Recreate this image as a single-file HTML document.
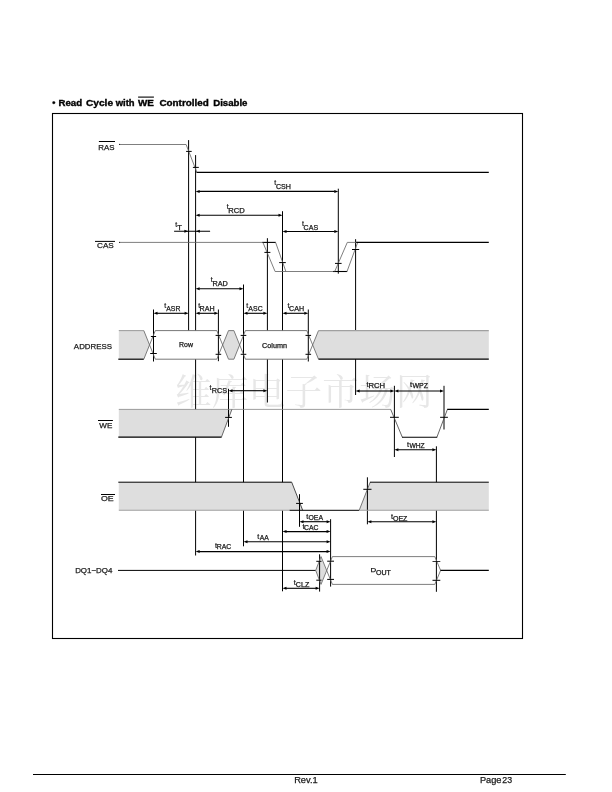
<!DOCTYPE html>
<html><head><meta charset="utf-8"><title>Read Cycle with WE Controlled Disable</title>
<style>
html,body{margin:0;padding:0;background:#fff;}
body{width:612px;height:792px;overflow:hidden;font-family:"Liberation Sans",sans-serif;}
svg{display:block;position:absolute;left:0;top:0;filter:grayscale(1);}
svg text{font-family:"Liberation Sans",sans-serif;fill:#1a1a1a;stroke:#1a1a1a;stroke-width:0.25px;}
svg text.tt{stroke-width:0.2px;}
svg text.ttl{stroke-width:0.35px;fill:#000;stroke:#000;}
</style></head>
<body>
<svg width="612" height="792" viewBox="0 0 612 792">
<rect x="0" y="0" width="612" height="792" fill="#fff"/>
<text x="175" y="404.5" font-size="36.5" text-anchor="start" textLength="257.5" lengthAdjust="spacing" style="font-family:'Liberation Serif','Noto Serif CJK SC',serif;fill:#e7e7e7;stroke:none;stroke-width:0;">维库电子市场网</text>
<rect x="52.5" y="113.5" width="470" height="525" fill="none" stroke="#000" stroke-width="1.1"/>
<line x1="33" y1="774.5" x2="565.8" y2="774.5" stroke="#000" stroke-width="1.1"/>
<text x="52.2" y="106.3" font-size="9.0" font-weight="bold" text-anchor="start" class="ttl">•</text>
<text x="58.5" y="106.3" font-size="9.0" font-weight="bold" text-anchor="start" textLength="23.6" lengthAdjust="spacingAndGlyphs" class="ttl">Read</text>
<text x="85.9" y="106.3" font-size="9.0" font-weight="bold" text-anchor="start" textLength="27.2" lengthAdjust="spacingAndGlyphs" class="ttl">Cycle</text>
<text x="115.7" y="106.3" font-size="9.0" font-weight="bold" text-anchor="start" textLength="18.9" lengthAdjust="spacingAndGlyphs" class="ttl">with</text>
<text x="138.0" y="106.3" font-size="9.0" font-weight="bold" text-anchor="start" textLength="15.9" lengthAdjust="spacingAndGlyphs" class="ttl">WE</text>
<text x="159.4" y="106.3" font-size="9.0" font-weight="bold" text-anchor="start" textLength="49.4" lengthAdjust="spacingAndGlyphs" class="ttl">Controlled</text>
<text x="213.2" y="106.3" font-size="9.0" font-weight="bold" text-anchor="start" textLength="34.3" lengthAdjust="spacingAndGlyphs" class="ttl">Disable</text>
<line x1="138.1" y1="97.1" x2="153.9" y2="97.1" stroke="#000" stroke-width="1.1"/>
<line x1="98.9" y1="141.5" x2="115" y2="141.5" stroke="#000" stroke-width="1.0"/>
<line x1="95" y1="241.4" x2="115" y2="241.4" stroke="#000" stroke-width="1.0"/>
<line x1="98" y1="420.5" x2="112.9" y2="420.5" stroke="#000" stroke-width="1.0"/>
<line x1="101" y1="494.5" x2="115" y2="494.5" stroke="#000" stroke-width="1.0"/>
<polygon points="118.8,330.6 143.8,330.6 149.6,345 143.8,359.2 118.8,359.2" fill="#dedede" stroke="none" stroke-width="0"/>
<polygon points="222.6,345 228.5,330.6 233.9,330.6 239.5,345 233.9,359.2 228.5,359.2" fill="#dedede" stroke="none" stroke-width="0"/>
<polygon points="318.5,330.6 488.8,330.6 488.8,359.2 318.5,359.2 312.8,345" fill="#dedede" stroke="none" stroke-width="0"/>
<polygon points="118.8,409.4 231.9,409.4 221.4,437.2 118.8,437.2" fill="#dedede" stroke="none" stroke-width="0"/>
<polygon points="118.8,482.2 291.7,482.2 302.7,510.3 118.8,510.3" fill="#dedede" stroke="none" stroke-width="0"/>
<polygon points="370.2,482.2 488.8,482.2 488.8,510.3 359.2,510.3" fill="#dedede" stroke="none" stroke-width="0"/>
<polygon points="315.7,570.4 321,556.5 326.5,570.4 321,584.3" fill="#dedede" stroke="none" stroke-width="0"/>
<line x1="188.6" y1="140.1" x2="188.6" y2="330.6" stroke="#000" stroke-width="1.0"/>
<line x1="195.6" y1="155.1" x2="195.6" y2="330.6" stroke="#000" stroke-width="1.0"/>
<line x1="195.6" y1="359.2" x2="195.6" y2="409.4" stroke="#000" stroke-width="1.0"/>
<line x1="195.6" y1="437.2" x2="195.6" y2="482.2" stroke="#000" stroke-width="1.0"/>
<line x1="195.6" y1="510.3" x2="195.6" y2="555.5" stroke="#000" stroke-width="1.0"/>
<line x1="243.5" y1="284.5" x2="243.5" y2="482.2" stroke="#000" stroke-width="1.0"/>
<line x1="243.5" y1="510.3" x2="243.5" y2="546.3" stroke="#000" stroke-width="1.0"/>
<line x1="267.4" y1="238.2" x2="267.4" y2="330.6" stroke="#000" stroke-width="1.0"/>
<line x1="267.4" y1="359.2" x2="267.4" y2="402.5" stroke="#000" stroke-width="1.0"/>
<line x1="282.5" y1="211.2" x2="282.5" y2="330.6" stroke="#000" stroke-width="1.0"/>
<line x1="282.5" y1="359.2" x2="282.5" y2="482.2" stroke="#000" stroke-width="1.0"/>
<line x1="282.5" y1="510.3" x2="282.5" y2="591.3" stroke="#000" stroke-width="1.0"/>
<line x1="338.3" y1="188.7" x2="338.3" y2="273.7" stroke="#000" stroke-width="1.0"/>
<line x1="355.6" y1="239.2" x2="355.6" y2="330.6" stroke="#000" stroke-width="1.0"/>
<line x1="355.6" y1="359.2" x2="355.6" y2="395" stroke="#000" stroke-width="1.0"/>
<line x1="153.5" y1="309.5" x2="153.5" y2="361.5" stroke="#000" stroke-width="1.0"/>
<line x1="218.4" y1="309.5" x2="218.4" y2="361.2" stroke="#000" stroke-width="1.0"/>
<line x1="308.3" y1="309.5" x2="308.3" y2="361.5" stroke="#000" stroke-width="1.0"/>
<line x1="228.5" y1="388.8" x2="228.5" y2="426.8" stroke="#000" stroke-width="1.0"/>
<line x1="394.4" y1="385.8" x2="394.4" y2="457" stroke="#000" stroke-width="1.0"/>
<line x1="444.0" y1="385.8" x2="444.0" y2="429.5" stroke="#000" stroke-width="1.0"/>
<line x1="436.4" y1="446.3" x2="436.4" y2="482.2" stroke="#000" stroke-width="1.0"/>
<line x1="436.4" y1="510.3" x2="436.4" y2="591.8" stroke="#000" stroke-width="1.0"/>
<line x1="299.5" y1="494.2" x2="299.5" y2="526.8" stroke="#000" stroke-width="1.0"/>
<line x1="367.4" y1="477.3" x2="367.4" y2="524.3" stroke="#000" stroke-width="1.0"/>
<line x1="330.6" y1="519.2" x2="330.6" y2="586.6" stroke="#000" stroke-width="1.0"/>
<line x1="319.6" y1="554.3" x2="319.6" y2="591.6" stroke="#000" stroke-width="1.0"/>
<rect x="119" y="143.9" width="1.1" height="1.1" fill="#000"/>
<rect x="119" y="241.9" width="1.1" height="1.1" fill="#000"/>
<polyline points="119.5,144.5 186.1,144.5 196.9,172.4" stroke="#686868" stroke-width="0.85" fill="none" stroke-linejoin="miter"/>
<line x1="196.5" y1="172.4" x2="488.8" y2="172.4" stroke="#000" stroke-width="1.1"/>
<line x1="186.1" y1="151.4" x2="191.70000000000002" y2="151.4" stroke="#000" stroke-width="1.0"/>
<line x1="192.9" y1="167.4" x2="198.79999999999998" y2="167.4" stroke="#000" stroke-width="1.0"/>
<line x1="119.5" y1="242.4" x2="263" y2="242.4" stroke="#686868" stroke-width="0.85"/>
<line x1="262.4" y1="242.4" x2="275.8" y2="242.4" stroke="#000" stroke-width="1.1"/>
<polyline points="262.9,242.4 275.1,271.5" stroke="#686868" stroke-width="0.85" fill="none" stroke-linejoin="miter"/>
<polyline points="275.6,242.4 285.9,271.5" stroke="#686868" stroke-width="0.85" fill="none" stroke-linejoin="miter"/>
<line x1="275.1" y1="271.5" x2="334" y2="271.5" stroke="#686868" stroke-width="0.85"/>
<line x1="333.2" y1="271.5" x2="347.2" y2="271.5" stroke="#000" stroke-width="1.1"/>
<polyline points="334.7,271.5 347.3,242.4 357.7,242.4" stroke="#686868" stroke-width="0.85" fill="none" stroke-linejoin="miter"/>
<polyline points="347,271.5 357.7,242.4" stroke="#686868" stroke-width="0.85" fill="none" stroke-linejoin="miter"/>
<line x1="356.2" y1="242.4" x2="488.8" y2="242.4" stroke="#000" stroke-width="1.1"/>
<line x1="264.4" y1="252.4" x2="270.4" y2="252.4" stroke="#000" stroke-width="1.0"/>
<line x1="279.2" y1="262.6" x2="285.8" y2="262.6" stroke="#000" stroke-width="1.0"/>
<line x1="335.0" y1="263.4" x2="341.6" y2="263.4" stroke="#000" stroke-width="1.0"/>
<line x1="352.0" y1="249.5" x2="359.20000000000005" y2="249.5" stroke="#000" stroke-width="1.0"/>
<line x1="118.8" y1="330.6" x2="143.8" y2="330.6" stroke="#a0a0a0" stroke-width="1.1"/>
<line x1="118.3" y1="359.2" x2="143.8" y2="359.2" stroke="#000" stroke-width="1.2"/>
<polyline points="143.8,330.6 155.3,359.2" stroke="#686868" stroke-width="0.85" fill="none" stroke-linejoin="miter"/>
<polyline points="143.8,359.2 155.3,330.6" stroke="#686868" stroke-width="0.85" fill="none" stroke-linejoin="miter"/>
<line x1="155.3" y1="330.6" x2="216.8" y2="330.6" stroke="#686868" stroke-width="0.9"/>
<line x1="155.3" y1="359.2" x2="216.8" y2="359.2" stroke="#686868" stroke-width="0.9"/>
<polyline points="216.8,330.6 228.5,359.2 233.9,359.2 245.4,330.6" stroke="#686868" stroke-width="0.85" fill="none" stroke-linejoin="miter"/>
<polyline points="216.8,359.2 228.5,330.6 233.9,330.6 245.4,359.2" stroke="#686868" stroke-width="0.85" fill="none" stroke-linejoin="miter"/>
<line x1="245.4" y1="330.6" x2="306.8" y2="330.6" stroke="#686868" stroke-width="0.9"/>
<line x1="245.4" y1="359.2" x2="306.8" y2="359.2" stroke="#686868" stroke-width="0.9"/>
<polyline points="306.8,330.6 318.5,359.2" stroke="#686868" stroke-width="0.85" fill="none" stroke-linejoin="miter"/>
<polyline points="306.8,359.2 318.5,330.6" stroke="#686868" stroke-width="0.85" fill="none" stroke-linejoin="miter"/>
<line x1="318.5" y1="330.6" x2="488.8" y2="330.6" stroke="#a0a0a0" stroke-width="1.1"/>
<line x1="318.5" y1="359.2" x2="488.8" y2="359.2" stroke="#000" stroke-width="1.2"/>
<line x1="150.9" y1="336.5" x2="156.1" y2="336.5" stroke="#000" stroke-width="1.0"/>
<line x1="150.2" y1="353.5" x2="156.8" y2="353.5" stroke="#000" stroke-width="1.0"/>
<line x1="215.6" y1="335.4" x2="221.20000000000002" y2="335.4" stroke="#000" stroke-width="1.0"/>
<line x1="215.6" y1="354.3" x2="221.20000000000002" y2="354.3" stroke="#000" stroke-width="1.0"/>
<line x1="240.7" y1="335.4" x2="246.3" y2="335.4" stroke="#000" stroke-width="1.0"/>
<line x1="240.7" y1="354.3" x2="246.3" y2="354.3" stroke="#000" stroke-width="1.0"/>
<line x1="305.5" y1="335.4" x2="311.1" y2="335.4" stroke="#000" stroke-width="1.0"/>
<line x1="305.5" y1="354.3" x2="311.1" y2="354.3" stroke="#000" stroke-width="1.0"/>
<line x1="118.8" y1="409.4" x2="390.8" y2="409.4" stroke="#858585" stroke-width="0.8"/>
<line x1="118.3" y1="437.2" x2="221.6" y2="437.2" stroke="#000" stroke-width="1.25"/>
<line x1="231.9" y1="409.4" x2="221.4" y2="437.2" stroke="#505050" stroke-width="0.85"/>
<line x1="390.7" y1="409.4" x2="402.3" y2="437.2" stroke="#4a4a4a" stroke-width="0.85"/>
<line x1="436.9" y1="437.2" x2="447.4" y2="409.4" stroke="#4a4a4a" stroke-width="0.85"/>
<line x1="402.0" y1="437.2" x2="437.2" y2="437.2" stroke="#000" stroke-width="1.1"/>
<line x1="447.2" y1="409.4" x2="488.8" y2="409.4" stroke="#000" stroke-width="1.1"/>
<line x1="225.1" y1="417.4" x2="231.9" y2="417.4" stroke="#000" stroke-width="1.0"/>
<line x1="390.0" y1="417.3" x2="398.79999999999995" y2="417.3" stroke="#000" stroke-width="1.0"/>
<line x1="440.1" y1="417.3" x2="447.9" y2="417.3" stroke="#000" stroke-width="1.0"/>
<line x1="118.3" y1="482.2" x2="291.7" y2="482.2" stroke="#000" stroke-width="1.0"/>
<line x1="291.7" y1="482.2" x2="302.7" y2="510.3" stroke="#222" stroke-width="0.8"/>
<line x1="118.8" y1="510.3" x2="290" y2="510.3" stroke="#a0a0a0" stroke-width="1.1"/>
<line x1="289.7" y1="510.3" x2="359.2" y2="510.3" stroke="#000" stroke-width="1.0"/>
<line x1="359.2" y1="510.3" x2="370.2" y2="482.2" stroke="#555" stroke-width="0.8"/>
<line x1="370" y1="482.2" x2="488.8" y2="482.2" stroke="#000" stroke-width="1.0"/>
<line x1="359.2" y1="510.3" x2="488.8" y2="510.3" stroke="#a0a0a0" stroke-width="1.1"/>
<line x1="296.1" y1="503.4" x2="302.9" y2="503.4" stroke="#000" stroke-width="1.0"/>
<line x1="363.29999999999995" y1="489.3" x2="371.5" y2="489.3" stroke="#000" stroke-width="1.0"/>
<line x1="118" y1="570.4" x2="315.7" y2="570.4" stroke="#000" stroke-width="1.0"/>
<polyline points="315.7,570.4 321,556.6 332.4,584.4 434.8,584.4 440.6,570.4 434.8,556.6 332.4,556.6 321,584.4 315.7,570.4" stroke="#686868" stroke-width="0.85" fill="none" stroke-linejoin="miter"/>
<line x1="440.4" y1="570.4" x2="488.8" y2="570.4" stroke="#000" stroke-width="1.1"/>
<line x1="316.29999999999995" y1="561.3" x2="321.5" y2="561.3" stroke="#000" stroke-width="1.0"/>
<line x1="316.29999999999995" y1="580.2" x2="321.5" y2="580.2" stroke="#000" stroke-width="1.0"/>
<line x1="327.20000000000005" y1="561.2" x2="334.0" y2="561.2" stroke="#000" stroke-width="1.0"/>
<line x1="327.20000000000005" y1="579.4" x2="334.0" y2="579.4" stroke="#000" stroke-width="1.0"/>
<line x1="432.5" y1="561.5" x2="440.29999999999995" y2="561.5" stroke="#000" stroke-width="0.8"/>
<line x1="432.5" y1="580.3" x2="440.29999999999995" y2="580.3" stroke="#000" stroke-width="1.0"/>
<line x1="199.1" y1="191.4" x2="334.8" y2="191.4" stroke="#000" stroke-width="1.1"/>
<polygon points="195.6,191.4 199.6,189.9 199.6,192.9" fill="#000" stroke="none" stroke-width="0"/>
<polygon points="338.3,191.4 334.3,189.9 334.3,192.9" fill="#000" stroke="none" stroke-width="0"/>
<line x1="199.1" y1="215.2" x2="279.0" y2="215.2" stroke="#000" stroke-width="1.1"/>
<polygon points="195.6,215.2 199.6,213.7 199.6,216.7" fill="#000" stroke="none" stroke-width="0"/>
<polygon points="282.5,215.2 278.5,213.7 278.5,216.7" fill="#000" stroke="none" stroke-width="0"/>
<line x1="286.0" y1="231.5" x2="334.8" y2="231.5" stroke="#000" stroke-width="1.1"/>
<polygon points="282.5,231.5 286.5,230.0 286.5,233.0" fill="#000" stroke="none" stroke-width="0"/>
<polygon points="338.3,231.5 334.3,230.0 334.3,233.0" fill="#000" stroke="none" stroke-width="0"/>
<line x1="174.1" y1="231.3" x2="210.1" y2="231.3" stroke="#000" stroke-width="1.1"/>
<polygon points="188.1,231.3 184.4,229.8 184.4,232.8" fill="#000" stroke="none" stroke-width="0"/>
<polygon points="196.1,231.3 199.8,229.8 199.8,232.8" fill="#000" stroke="none" stroke-width="0"/>
<line x1="199.1" y1="288.7" x2="240.0" y2="288.7" stroke="#000" stroke-width="1.1"/>
<polygon points="195.6,288.7 199.6,287.2 199.6,290.2" fill="#000" stroke="none" stroke-width="0"/>
<polygon points="243.5,288.7 239.5,287.2 239.5,290.2" fill="#000" stroke="none" stroke-width="0"/>
<line x1="157.0" y1="313.3" x2="185.1" y2="313.3" stroke="#000" stroke-width="1.1"/>
<polygon points="153.5,313.3 157.5,311.8 157.5,314.8" fill="#000" stroke="none" stroke-width="0"/>
<polygon points="188.6,313.3 184.6,311.8 184.6,314.8" fill="#000" stroke="none" stroke-width="0"/>
<line x1="199.1" y1="313.3" x2="214.9" y2="313.3" stroke="#000" stroke-width="1.1"/>
<polygon points="195.6,313.3 199.6,311.8 199.6,314.8" fill="#000" stroke="none" stroke-width="0"/>
<polygon points="218.4,313.3 214.4,311.8 214.4,314.8" fill="#000" stroke="none" stroke-width="0"/>
<line x1="247.0" y1="313.3" x2="263.9" y2="313.3" stroke="#000" stroke-width="1.1"/>
<polygon points="243.5,313.3 247.5,311.8 247.5,314.8" fill="#000" stroke="none" stroke-width="0"/>
<polygon points="267.4,313.3 263.4,311.8 263.4,314.8" fill="#000" stroke="none" stroke-width="0"/>
<line x1="286.0" y1="313.3" x2="304.8" y2="313.3" stroke="#000" stroke-width="1.1"/>
<polygon points="282.5,313.3 286.5,311.8 286.5,314.8" fill="#000" stroke="none" stroke-width="0"/>
<polygon points="308.3,313.3 304.3,311.8 304.3,314.8" fill="#000" stroke="none" stroke-width="0"/>
<line x1="232.0" y1="390.7" x2="263.9" y2="390.7" stroke="#000" stroke-width="1.1"/>
<polygon points="228.5,390.7 232.5,389.2 232.5,392.2" fill="#000" stroke="none" stroke-width="0"/>
<polygon points="267.4,390.7 263.4,389.2 263.4,392.2" fill="#000" stroke="none" stroke-width="0"/>
<line x1="359.1" y1="391.0" x2="390.9" y2="391.0" stroke="#000" stroke-width="1.1"/>
<polygon points="355.6,391.0 359.6,389.5 359.6,392.5" fill="#000" stroke="none" stroke-width="0"/>
<polygon points="394.4,391.0 390.4,389.5 390.4,392.5" fill="#000" stroke="none" stroke-width="0"/>
<line x1="397.9" y1="391.0" x2="440.5" y2="391.0" stroke="#000" stroke-width="1.1"/>
<polygon points="394.4,391.0 398.4,389.5 398.4,392.5" fill="#000" stroke="none" stroke-width="0"/>
<polygon points="444.0,391.0 440.0,389.5 440.0,392.5" fill="#000" stroke="none" stroke-width="0"/>
<line x1="397.9" y1="449.8" x2="432.9" y2="449.8" stroke="#000" stroke-width="1.1"/>
<polygon points="394.4,449.8 398.4,448.3 398.4,451.3" fill="#000" stroke="none" stroke-width="0"/>
<polygon points="436.4,449.8 432.4,448.3 432.4,451.3" fill="#000" stroke="none" stroke-width="0"/>
<line x1="303.0" y1="521.7" x2="327.1" y2="521.7" stroke="#000" stroke-width="1.1"/>
<polygon points="299.5,521.7 303.5,520.2 303.5,523.2" fill="#000" stroke="none" stroke-width="0"/>
<polygon points="330.6,521.7 326.6,520.2 326.6,523.2" fill="#000" stroke="none" stroke-width="0"/>
<line x1="286.0" y1="531.6" x2="327.1" y2="531.6" stroke="#000" stroke-width="1.1"/>
<polygon points="282.5,531.6 286.5,530.1 286.5,533.1" fill="#000" stroke="none" stroke-width="0"/>
<polygon points="330.6,531.6 326.6,530.1 326.6,533.1" fill="#000" stroke="none" stroke-width="0"/>
<line x1="247.0" y1="541.7" x2="327.1" y2="541.7" stroke="#000" stroke-width="1.1"/>
<polygon points="243.5,541.7 247.5,540.2 247.5,543.2" fill="#000" stroke="none" stroke-width="0"/>
<polygon points="330.6,541.7 326.6,540.2 326.6,543.2" fill="#000" stroke="none" stroke-width="0"/>
<line x1="199.1" y1="551.6" x2="327.1" y2="551.6" stroke="#000" stroke-width="1.1"/>
<polygon points="195.6,551.6 199.6,550.1 199.6,553.1" fill="#000" stroke="none" stroke-width="0"/>
<polygon points="330.6,551.6 326.6,550.1 326.6,553.1" fill="#000" stroke="none" stroke-width="0"/>
<line x1="286.0" y1="588.3" x2="316.1" y2="588.3" stroke="#000" stroke-width="1.1"/>
<polygon points="282.5,588.3 286.5,586.8 286.5,589.8" fill="#000" stroke="none" stroke-width="0"/>
<polygon points="319.6,588.3 315.6,586.8 315.6,589.8" fill="#000" stroke="none" stroke-width="0"/>
<line x1="370.9" y1="521.7" x2="432.9" y2="521.7" stroke="#000" stroke-width="1.1"/>
<polygon points="367.4,521.7 371.4,520.2 371.4,523.2" fill="#000" stroke="none" stroke-width="0"/>
<polygon points="436.4,521.7 432.4,520.2 432.4,523.2" fill="#000" stroke="none" stroke-width="0"/>
<text x="98.25" y="149.6" font-size="7.8" font-weight="normal" text-anchor="start" textLength="16.21" lengthAdjust="spacingAndGlyphs" >RAS</text>
<text x="96.99" y="247.7" font-size="7.8" font-weight="normal" text-anchor="start" textLength="16.79" lengthAdjust="spacingAndGlyphs" >CAS</text>
<text x="73.88" y="348.6" font-size="7.8" font-weight="normal" text-anchor="start" textLength="38.18" lengthAdjust="spacingAndGlyphs" >ADDRESS</text>
<text x="99.36" y="427.7" font-size="7.8" font-weight="normal" text-anchor="start" textLength="12.98" lengthAdjust="spacingAndGlyphs" >WE</text>
<text x="100.98" y="500.7" font-size="7.8" font-weight="normal" text-anchor="start" textLength="12.69" lengthAdjust="spacingAndGlyphs" >OE</text>
<text x="75.15" y="572.7" font-size="7.8" font-weight="normal" text-anchor="start" textLength="37.28" lengthAdjust="spacingAndGlyphs" >DQ1~DQ4</text>
<text x="294.16" y="783.3" font-size="8.8" font-weight="normal" text-anchor="start" textLength="23.58" lengthAdjust="spacingAndGlyphs" >Rev.1</text>
<text x="479.94" y="783.2" font-size="8.8" font-weight="normal" text-anchor="start" textLength="21.57" lengthAdjust="spacingAndGlyphs" >Page</text>
<text x="502.36" y="783.2" font-size="8.8" font-weight="normal" text-anchor="start" textLength="9.83" lengthAdjust="spacingAndGlyphs" >23</text>
<text x="179.03" y="346.7" font-size="6.4" font-weight="normal" text-anchor="start" textLength="13.96" lengthAdjust="spacingAndGlyphs" >Row</text>
<text x="262.13" y="347.7" font-size="6.4" font-weight="normal" text-anchor="start" textLength="24.94" lengthAdjust="spacingAndGlyphs" >Column</text>
<text x="274.19" y="184.9" font-size="6.8" font-weight="normal" text-anchor="start" textLength="1.96" lengthAdjust="spacingAndGlyphs" class="tt">t</text>
<text x="275.94" y="188.9" font-size="6.4" font-weight="normal" text-anchor="start" textLength="15.04" lengthAdjust="spacingAndGlyphs" >CSH</text>
<text x="226.89" y="208.6" font-size="6.8" font-weight="normal" text-anchor="start" textLength="1.96" lengthAdjust="spacingAndGlyphs" class="tt">t</text>
<text x="228.28" y="212.9" font-size="6.4" font-weight="normal" text-anchor="start" textLength="16.49" lengthAdjust="spacingAndGlyphs" >RCD</text>
<text x="301.99" y="225.7" font-size="6.8" font-weight="normal" text-anchor="start" textLength="1.96" lengthAdjust="spacingAndGlyphs" class="tt">t</text>
<text x="303.64" y="229.5" font-size="6.4" font-weight="normal" text-anchor="start" textLength="14.48" lengthAdjust="spacingAndGlyphs" >CAS</text>
<text x="175.39" y="226.7" font-size="6.8" font-weight="normal" text-anchor="start" textLength="1.96" lengthAdjust="spacingAndGlyphs" class="tt">t</text>
<text x="177.23" y="229.6" font-size="6.4" font-weight="normal" text-anchor="start" textLength="4.65" lengthAdjust="spacingAndGlyphs" >T</text>
<text x="210.89" y="282.2" font-size="6.8" font-weight="normal" text-anchor="start" textLength="1.96" lengthAdjust="spacingAndGlyphs" class="tt">t</text>
<text x="212.5" y="285.6" font-size="6.4" font-weight="normal" text-anchor="start" textLength="15.34" lengthAdjust="spacingAndGlyphs" >RAD</text>
<text x="164.29" y="307.6" font-size="6.8" font-weight="normal" text-anchor="start" textLength="1.96" lengthAdjust="spacingAndGlyphs" class="tt">t</text>
<text x="166.29" y="311.0" font-size="6.4" font-weight="normal" text-anchor="start" textLength="14.03" lengthAdjust="spacingAndGlyphs" >ASR</text>
<text x="198.19" y="307.6" font-size="6.8" font-weight="normal" text-anchor="start" textLength="1.96" lengthAdjust="spacingAndGlyphs" class="tt">t</text>
<text x="199.51" y="311.0" font-size="6.4" font-weight="normal" text-anchor="start" textLength="15.07" lengthAdjust="spacingAndGlyphs" >RAH</text>
<text x="246.39" y="307.6" font-size="6.8" font-weight="normal" text-anchor="start" textLength="1.96" lengthAdjust="spacingAndGlyphs" class="tt">t</text>
<text x="248.39" y="311.0" font-size="6.4" font-weight="normal" text-anchor="start" textLength="14.28" lengthAdjust="spacingAndGlyphs" >ASC</text>
<text x="287.49" y="307.6" font-size="6.8" font-weight="normal" text-anchor="start" textLength="1.96" lengthAdjust="spacingAndGlyphs" class="tt">t</text>
<text x="289.14" y="311.0" font-size="6.4" font-weight="normal" text-anchor="start" textLength="15.04" lengthAdjust="spacingAndGlyphs" >CAH</text>
<text x="209.49" y="389.8" font-size="6.8" font-weight="normal" text-anchor="start" textLength="1.96" lengthAdjust="spacingAndGlyphs" class="tt">t</text>
<text x="211.7" y="392.7" font-size="6.4" font-weight="normal" text-anchor="start" textLength="15.33" lengthAdjust="spacingAndGlyphs" >RCS</text>
<text x="366.49" y="387.3" font-size="6.6" font-weight="normal" text-anchor="start" textLength="2.07" lengthAdjust="spacingAndGlyphs" class="tt">t</text>
<text x="368.47" y="388.2" font-size="6.4" font-weight="normal" text-anchor="start" textLength="16.66" lengthAdjust="spacingAndGlyphs" >RCH</text>
<text x="409.99" y="387.3" font-size="6.6" font-weight="normal" text-anchor="start" textLength="2.07" lengthAdjust="spacingAndGlyphs" class="tt">t</text>
<text x="412.47" y="388.2" font-size="6.4" font-weight="normal" text-anchor="start" textLength="15.65" lengthAdjust="spacingAndGlyphs" >WPZ</text>
<text x="407.09" y="446.7" font-size="6.6" font-weight="normal" text-anchor="start" textLength="2.07" lengthAdjust="spacingAndGlyphs" class="tt">t</text>
<text x="409.47" y="447.6" font-size="6.4" font-weight="normal" text-anchor="start" textLength="15.24" lengthAdjust="spacingAndGlyphs" >WHZ</text>
<text x="306.39" y="518.7" font-size="6.6" font-weight="normal" text-anchor="start" textLength="2.07" lengthAdjust="spacingAndGlyphs" class="tt">t</text>
<text x="308.47" y="519.6" font-size="6.4" font-weight="normal" text-anchor="start" textLength="14.54" lengthAdjust="spacingAndGlyphs" >OEA</text>
<text x="302.49" y="528.6" font-size="6.6" font-weight="normal" text-anchor="start" textLength="2.07" lengthAdjust="spacingAndGlyphs" class="tt">t</text>
<text x="304.05" y="529.5" font-size="6.4" font-weight="normal" text-anchor="start" textLength="14.51" lengthAdjust="spacingAndGlyphs" >CAC</text>
<text x="257.39" y="538.6" font-size="6.6" font-weight="normal" text-anchor="start" textLength="2.07" lengthAdjust="spacingAndGlyphs" class="tt">t</text>
<text x="259.79" y="539.5" font-size="6.4" font-weight="normal" text-anchor="start" textLength="9.03" lengthAdjust="spacingAndGlyphs" >AA</text>
<text x="214.99" y="547.8" font-size="6.6" font-weight="normal" text-anchor="start" textLength="2.07" lengthAdjust="spacingAndGlyphs" class="tt">t</text>
<text x="216.74" y="548.7" font-size="6.4" font-weight="normal" text-anchor="start" textLength="14.53" lengthAdjust="spacingAndGlyphs" >RAC</text>
<text x="293.89" y="585.2" font-size="6.6" font-weight="normal" text-anchor="start" textLength="2.07" lengthAdjust="spacingAndGlyphs" class="tt">t</text>
<text x="295.84" y="586.5" font-size="6.4" font-weight="normal" text-anchor="start" textLength="13.49" lengthAdjust="spacingAndGlyphs" >CLZ</text>
<text x="391.09" y="519.2" font-size="6.6" font-weight="normal" text-anchor="start" textLength="2.07" lengthAdjust="spacingAndGlyphs" class="tt">t</text>
<text x="392.97" y="520.5" font-size="6.4" font-weight="normal" text-anchor="start" textLength="14.45" lengthAdjust="spacingAndGlyphs" >OEZ</text>
<text x="370.55" y="572.4" font-size="5.9" font-weight="normal" text-anchor="start" textLength="5.73" lengthAdjust="spacingAndGlyphs" >D</text>
<text x="375.97" y="574.7" font-size="6.4" font-weight="normal" text-anchor="start" textLength="14.90" lengthAdjust="spacingAndGlyphs" >OUT</text>
</svg>
</body></html>
